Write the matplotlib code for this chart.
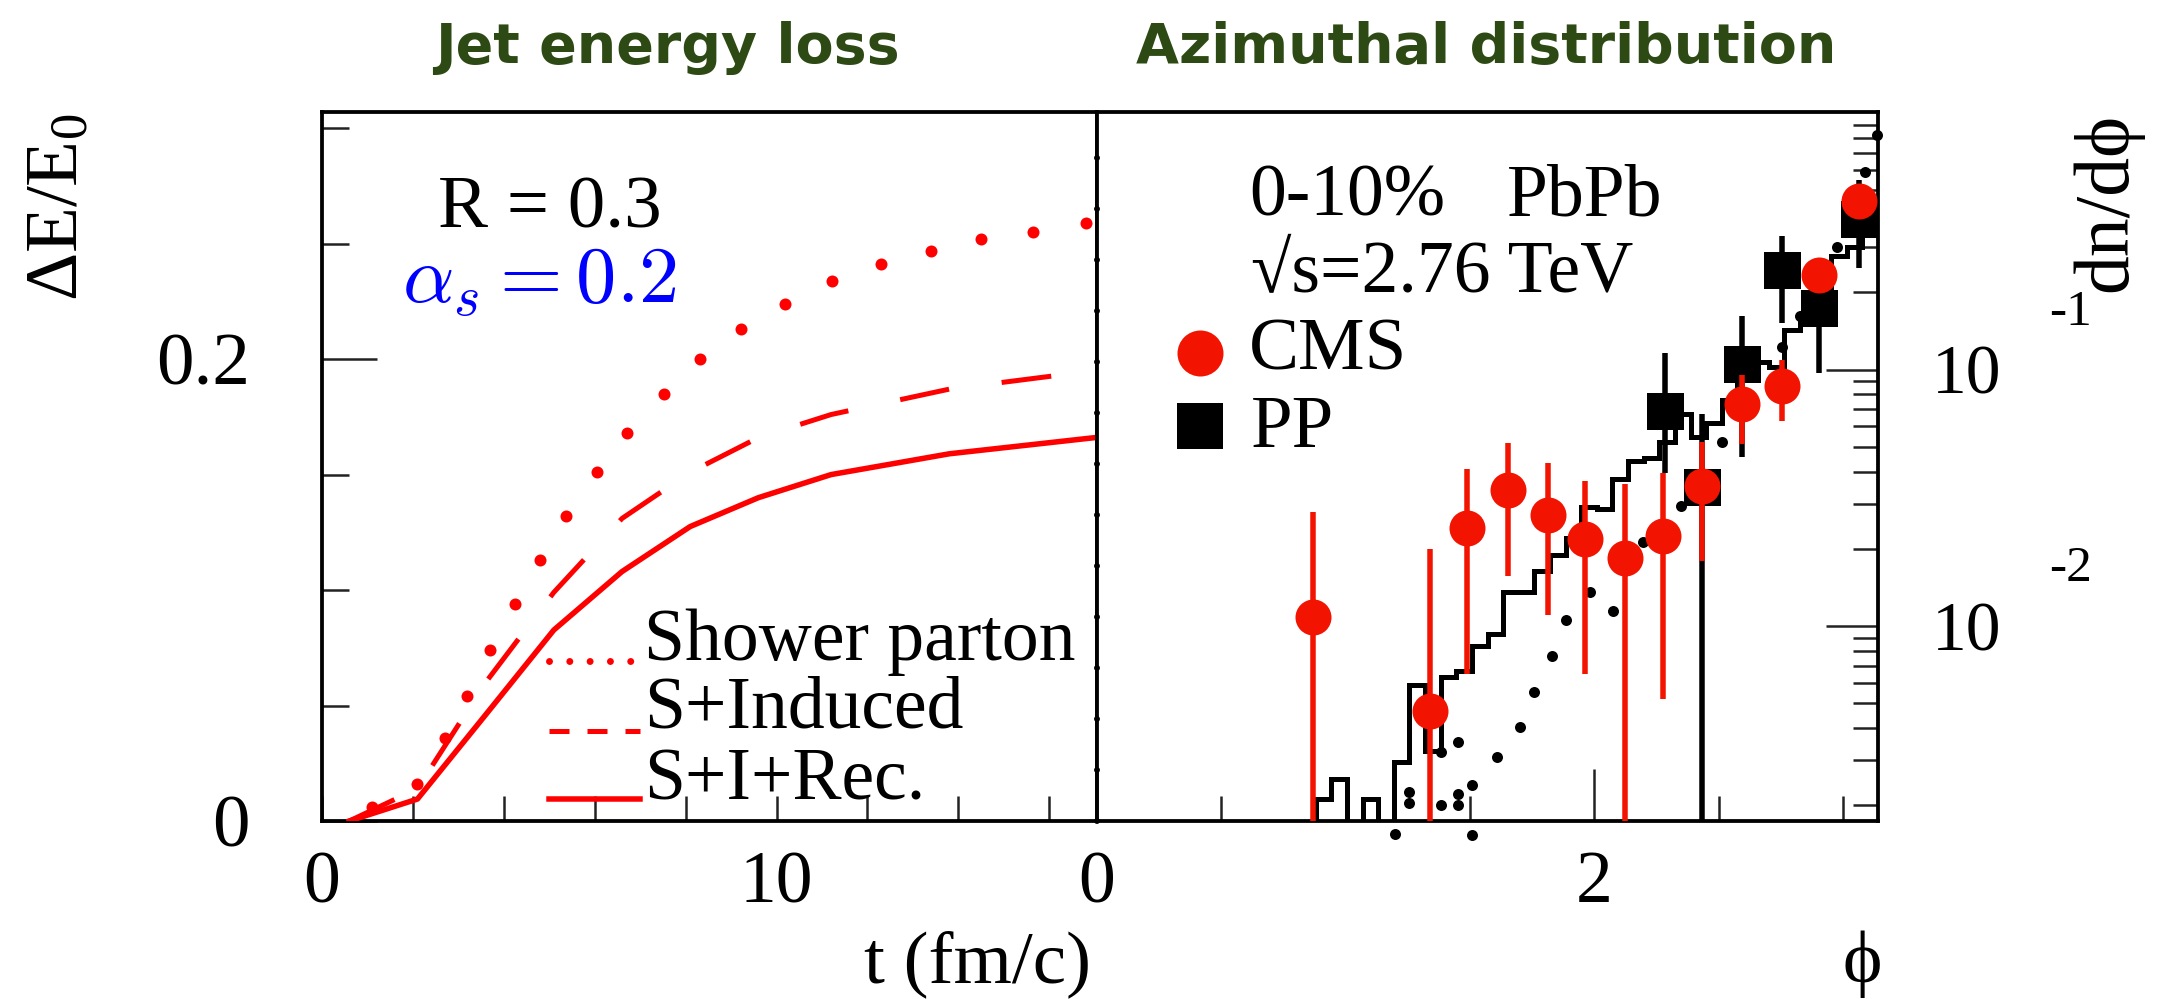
import numpy as np
import matplotlib
matplotlib.use("Agg")
import matplotlib.pyplot as plt
from matplotlib.lines import Line2D
from matplotlib.ticker import FixedLocator, NullFormatter
import matplotlib.transforms as mtransforms

# ---------------- data ----------------
# Jet energy loss vs time (left panel)
shower_t = [1.1, 2.1, 2.7, 3.2, 3.7, 4.25, 4.8, 5.37, 6.06, 6.71, 7.52, 8.31,
            9.21, 10.18, 11.22, 12.3, 13.4, 14.5, 15.65, 16.8]
shower_dE = [0.006, 0.016, 0.036, 0.054, 0.074, 0.094, 0.113, 0.132, 0.151,
             0.168, 0.185, 0.200, 0.213, 0.224, 0.234, 0.241, 0.247, 0.252,
             0.255, 0.259]

induced_t = [0.6, 2.1, 3.6, 5.1, 6.6, 8.1, 9.6, 11.2, 13.8, 17.0]
induced_dE = [0.0, 0.014, 0.060, 0.099, 0.131, 0.151, 0.166, 0.176, 0.187, 0.195]

recoil_t = [0.6, 2.1, 3.6, 5.1, 6.6, 8.1, 9.6, 11.2, 13.8, 17.0]
recoil_dE = [0.0, 0.0095, 0.046, 0.0827, 0.108, 0.1275, 0.140, 0.150, 0.159, 0.166]

# Azimuthal distribution (right panel)
cms_phi = [0.869, 1.339, 1.490, 1.655, 1.813, 1.964, 2.122, 2.276, 2.435,
           2.596, 2.754, 2.904, 3.066]
cms_val = [0.0108, 0.00465, 0.0242, 0.0339, 0.0271, 0.0218, 0.0185, 0.0224,
           0.0353, 0.0731, 0.0866, 0.2344, 0.4532]
cms_hi = [0.0279, 0.0200, 0.0411, 0.0515, 0.0433, 0.0367, 0.0357, 0.0394,
          0.0522, 0.0948, 0.1094, 0.26, 0.50]
cms_lo = [0.0, 0.0, 0.0065, 0.0157, 0.0110, 0.0065, 0.0, 0.0052,
          0.0179, 0.0511, 0.0628, 0.21, 0.41]

pp_phi = [2.283, 2.435, 2.596, 2.754, 2.904, 3.066]
pp_val = [0.0690, 0.0348, 0.105, 0.2444, 0.1738, 0.3846]
pp_hi = [0.1164, 0.0668, 0.1618, 0.3304, 0.25, 0.55]
pp_lo = [0.0394, 0.0, 0.0457, 0.1522, 0.0967, 0.249]

# 50-bin model histogram over [0, pi]
hist_vals = [0, 0, 0, 0, 0, 0, 0, 0, 0, 0,
             0, 0, 0, 0, 0.00211, 0.00254, 0, 0.00211, 0, 0.00295,
             0.00589, 0.00327, 0.00631, 0.00670, 0.00838, 0.00930, 0.01352, 0.01352, 0.0164, 0.0190,
             0.0221, 0.0290, 0.0286, 0.0374, 0.0439, 0.0453, 0.052, 0.0668, 0.0544, 0.0618,
             0.076, 0.095, 0.107, 0.102, 0.143, 0.162, 0.20, 0.277, 0.301, 0.45]

# dotted model curve
dots_phi = [1.198, 1.254, 1.254, 1.385, 1.385, 1.452, 1.452, 1.452, 1.510, 1.510,
            1.608, 1.702, 1.759, 1.829, 1.887, 1.983, 2.077, 2.196, 2.350, 2.516,
            2.754, 2.828, 2.976, 3.090, 3.137]
dots_val = [0.00154, 0.00226, 0.00205, 0.00201, 0.00324, 0.00352, 0.00222, 0.00200,
            0.00239, 0.00153, 0.00308, 0.00404, 0.00555, 0.00766, 0.0106, 0.0136,
            0.0114, 0.0213, 0.0293, 0.0522, 0.1229, 0.162, 0.301, 0.587, 0.824]

# ---------------- figure ----------------
W, H, DPI = 2157, 999, 100
SERIF = ["Liberation Serif", "DejaVu Serif"]
plt.rcParams["font.family"] = SERIF
plt.rcParams["mathtext.fontset"] = "custom"
plt.rcParams["mathtext.rm"] = "Liberation Serif"
plt.rcParams["mathtext.it"] = "Liberation Serif:italic"


def pt(px):
    return px * 72.0 / DPI


def rect(x0, x1, y0, y1):
    return [x0 / W, 1 - y1 / H, (x1 - x0) / W, (y1 - y0) / H]


def fxy(x, y):
    return x / W, 1 - y / H


RED = "#ff0000"
MRED = "#f21400"
TICKC = "#222222"
GREEN = "#2e4a14"

fig = plt.figure(figsize=(W / DPI, H / DPI), dpi=DPI)
axL = fig.add_axes(rect(322, 1097, 112, 821))
axR = fig.add_axes(rect(1097, 1878, 112, 821))

for ax in (axL, axR):
    for s in ax.spines.values():
        s.set_linewidth(pt(3.8))
        s.set_color("black")

# ---- left panel ----
axL.plot(shower_t, shower_dE, linestyle="none", marker="o", ms=pt(12),
         color=RED, markeredgewidth=0, clip_on=False, zorder=3)
axL.plot(induced_t, induced_dE, color=RED, lw=pt(5), linestyle=(0, (10, 10.6)),
         dash_capstyle="butt", zorder=3)
axL.plot(recoil_t, recoil_dE, color=RED, lw=pt(5.5), solid_joinstyle="round", zorder=3)

axL.set_xlim(0, 17.05)
axL.set_ylim(0, 0.307)
axL.set_xticks([0, 10])
axL.set_xticklabels(["0", "10"])
axL.xaxis.set_minor_locator(FixedLocator([2, 4, 6, 8, 12, 14, 16]))
axL.set_yticks([0, 0.2])
axL.set_yticklabels(["0", "0.2"])
axL.yaxis.set_minor_locator(FixedLocator([0.05, 0.1, 0.15, 0.25, 0.3]))
axL.tick_params(axis="x", which="both", direction="in", top=False, bottom=True,
                length=pt(25), width=pt(2.5), color=TICKC, labelsize=53, pad=pt(30))
axL.tick_params(axis="y", which="major", direction="in", left=True, right=False,
                length=pt(55), width=pt(2.5), color=TICKC, labelsize=54, pad=pt(72))
axL.tick_params(axis="y", which="minor", direction="in", left=True, right=False,
                length=pt(27), width=pt(2.5), color=TICKC)

# left legend
leg_y = [661, 731, 799]
fig.add_artist(Line2D([549 / W, 640 / W], [1 - leg_y[0] / H] * 2, transform=fig.transFigure,
                      color=RED, lw=pt(7), linestyle=(0, (0.001, 2.9)),
                      dash_capstyle="round"))
fig.add_artist(Line2D([549 / W, 640 / W], [1 - leg_y[1] / H] * 2, transform=fig.transFigure,
                      color=RED, lw=pt(5), linestyle=(0, (4, 3.6)), dash_capstyle="butt"))
fig.add_artist(Line2D([549 / W, 640 / W], [1 - leg_y[2] / H] * 2, transform=fig.transFigure,
                      color=RED, lw=pt(5.5)))
for lab, yy in zip(["Shower parton", "S+Induced", "S+I+Rec."], [660, 728, 800]):
    fig.text(*fxy(644, yy), lab, fontsize=53, ha="left", va="baseline")

fig.text(*fxy(438, 228), "R = 0.3", fontsize=54, ha="left", va="baseline")
fig.text(*fxy(402, 302), r"$\alpha_s = 0.2$", fontsize=58, color="blue",
         math_fontfamily="cm", ha="left", va="baseline")

# ---- right panel ----
axR.set_yscale("log")
axR.set_xlim(0, np.pi)
axR.set_ylim(10 ** -2.76, 10 ** 0.004)

n_bins = len(hist_vals)
edges = np.linspace(0, np.pi, n_bins + 1)
hv = np.array(hist_vals, dtype=float)
hv = np.where(hv > 0, hv, 1e-6)
axR.stairs(hv, edges, baseline=None, color="black", lw=pt(5), zorder=2)

axR.plot(dots_phi, dots_val, linestyle="none", marker="o", ms=pt(11),
         color="black", markeredgewidth=0, clip_on=False, zorder=3)


def floor(v):
    return [x if x > 0 else 1e-6 for x in v]


axR.vlines(pp_phi, floor(pp_lo), pp_hi, color="black", lw=pt(5.5), zorder=4)
axR.plot(pp_phi, pp_val, linestyle="none", marker="s", ms=pt(37), color="black",
         markeredgewidth=0, zorder=4)
axR.vlines(cms_phi, floor(cms_lo), cms_hi, color=MRED, lw=pt(5.5), zorder=5)
axR.plot(cms_phi, cms_val, linestyle="none", marker="o", ms=pt(36), color=MRED,
         markeredgewidth=0, zorder=5)

axR.set_xticks([0, 2])
axR.set_xticklabels(["0", "2"])
axR.xaxis.set_minor_locator(FixedLocator([0.5, 1.0, 1.5, 2.5, 3.0]))
axR.tick_params(axis="x", which="major", direction="in", top=False, bottom=True,
                length=pt(52), width=pt(2.5), color=TICKC, labelsize=53, pad=pt(30))
axR.tick_params(axis="x", which="minor", direction="in", top=False, bottom=True,
                length=pt(25), width=pt(2.5), color=TICKC)

axR.yaxis.tick_right()
axR.yaxis.set_major_locator(FixedLocator([0.01, 0.1]))
axR.set_yticklabels(["10", "10"])
minor_y = [k * 10.0 ** e for e in (-3, -2, -1) for k in range(2, 10)]
axR.yaxis.set_minor_locator(FixedLocator(minor_y))
axR.yaxis.set_minor_formatter(NullFormatter())
axR.tick_params(axis="y", which="major", direction="in", left=False, right=True,
                length=pt(52), width=pt(2.5), color=TICKC, labelsize=50, pad=pt(54))
axR.tick_params(axis="y", which="minor", direction="in", left=False, right=True,
                length=pt(25), width=pt(2.5), color=TICKC)

# exponents of the decade labels
blend = mtransforms.blended_transform_factory(axR.transAxes, axR.transData)
exp_tr = mtransforms.offset_copy(blend, fig=fig, x=0, y=57, units="dots")
for val, lab in [(0.1, "-1"), (0.01, "-2")]:
    axR.text((2071 - 1097) / 781, val, lab, transform=exp_tr, fontsize=37,
             ha="center", va="center", clip_on=False)

# dotted overlay on the shared frame edge
axR.plot([0, 0], [0, 1], transform=axR.transAxes, color="black", lw=pt(6),
         linestyle=(0, (0.001, 51 / 6)), dash_capstyle="round", clip_on=False, zorder=6)

# right legend and labels
fig.text(*fxy(1249, 215), "0-10%", fontsize=53, ha="left", va="baseline")
fig.text(*fxy(1507, 215), "PbPb", fontsize=53, ha="left", va="baseline")
fig.text(*fxy(1251, 292), "\u221as=2.76 TeV", fontsize=53, ha="left", va="baseline")
fig.add_artist(Line2D([1199.5 / W], [1 - 353 / H], transform=fig.transFigure,
                      marker="o", ms=pt(46), color=MRED, markeredgewidth=0, linestyle="none"))
fig.add_artist(Line2D([1199.5 / W], [1 - 425.5 / H], transform=fig.transFigure,
                      marker="s", ms=pt(46), color="black", markeredgewidth=0, linestyle="none"))
fig.text(*fxy(1249, 370), "CMS", fontsize=54, ha="left", va="baseline")
fig.text(*fxy(1251, 447), "PP", fontsize=54, ha="left", va="baseline")

# axis titles
fig.text(*fxy(60, 113), "\u0394E/E$_{0}$", fontsize=54, rotation=90, ha="center", va="top")
fig.text(*fxy(2108, 113), "dn/d\u03d5", fontsize=56, rotation=90, ha="center", va="top")
fig.text(*fxy(978, 982), "t (fm/c)", fontsize=54, ha="center", va="baseline")
fig.text(*fxy(1862, 982), "\u03d5", fontsize=54, ha="center", va="baseline")

# panel headings
fig.text(*fxy(667, 63), "Jet energy loss", fontsize=40, fontweight="bold",
         color=GREEN, family="DejaVu Sans", ha="center", va="baseline")
fig.text(*fxy(1486, 63), "Azimuthal distribution", fontsize=40, fontweight="bold",
         color=GREEN, family="DejaVu Sans", ha="center", va="baseline")

fig.savefig("out.png", dpi=DPI, facecolor="white")
